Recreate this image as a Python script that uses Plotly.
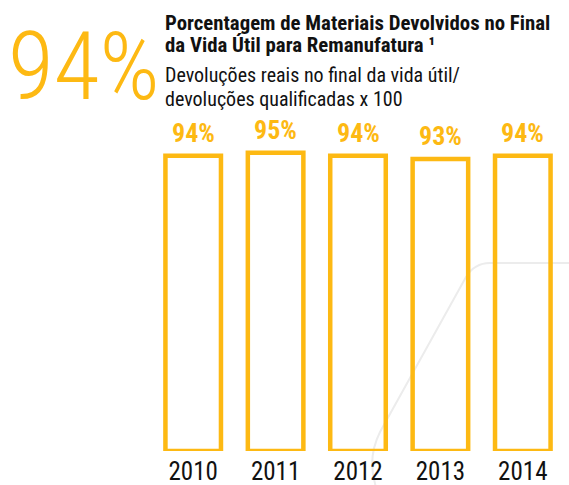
import plotly.graph_objects as go

# Data
years = ["2010", "2011", "2012", "2013", "2014"]
rates = [94, 95, 94, 93, 94]
value_labels = ["94%", "95%", "94%", "93%", "94%"]
headline = "94%"
title_lines = ["Porcentagem de Materiais Devolvidos no Final",
               "da Vida Útil para Remanufatura ¹"]
subtitle_lines = ["Devoluções reais no final da vida útil/",
                  "devoluções qualificadas x 100"]

W, H = 569, 485
L, R, T, B = 152, 5, 137, 34
PW, PH = W - L - R, H - T - B

YELLOW = "#FDB913"
NARROW = "Liberation Sans Narrow, Roboto Condensed, DejaVu Sans Condensed, Arial Narrow, sans-serif"


def px(x):
    return (x - L) / PW


def py(y):
    return (H - B - y) / PH


fig = go.Figure()
fig.add_trace(go.Bar(
    x=years, y=rates,
    marker=dict(color="rgba(255,255,255,0)", line=dict(color=YELLOW, width=4.5)),
    hoverinfo="skip",
))

annotations = []
# value labels above each bar (category axis: position by category index)
for i, (v, lab) in enumerate(zip(rates, value_labels)):
    annotations.append(dict(
        x=i, y=v, xref="x", yref="y", text=lab, showarrow=False,
        yanchor="bottom", yshift=6,
        font=dict(family=NARROW, size=26, color=YELLOW, weight="bold"),
    ))

# headline figure
annotations.append(dict(
    x=px(84), y=py(67), xref="paper", yref="paper", text=headline,
    showarrow=False, xanchor="center", yanchor="middle",
    font=dict(family=NARROW, size=94, color=YELLOW, weight=300),
))

for i, line in enumerate(title_lines):
    annotations.append(dict(
        x=px(163), y=py(23.5 + 22 * i), xref="paper", yref="paper", text=line,
        showarrow=False, xanchor="left", yanchor="middle",
        font=dict(family=NARROW, size=20.8, color="#111111", weight="bold"),
    ))
for i, line in enumerate(subtitle_lines):
    annotations.append(dict(
        x=px(163), y=py(74.5 + 24 * i), xref="paper", yref="paper", text=line,
        showarrow=False, xanchor="left", yanchor="middle",
        font=dict(family=NARROW, size=20, color="#111111"),
    ))

# faint background outline
pts = [(377, 490), (366, 460), (380, 432), (466, 277), (475, 262), (492, 263), (580, 263)]
c = [(px(a), py(b)) for a, b in pts]
path = (f"M {c[0][0]},{c[0][1]} Q {c[1][0]},{c[1][1]} {c[2][0]},{c[2][1]} "
        f"L {c[3][0]},{c[3][1]} Q {c[4][0]},{c[4][1]} {c[5][0]},{c[5][1]} "
        f"L {c[6][0]},{c[6][1]}")

fig.update_layout(
    width=W, height=H,
    margin=dict(l=L, r=R, t=T, b=B),
    paper_bgcolor="white", plot_bgcolor="rgba(0,0,0,0)",
    bargap=0.326, showlegend=False,
    annotations=annotations,
    shapes=[dict(type="path", path=path, xref="paper", yref="paper",
                 line=dict(color="#ececec", width=2), layer="below")],
    xaxis=dict(type="category", range=[-0.5, 4.5], showgrid=False, zeroline=False,
               showline=False, ticks="", ticklabelstandoff=3, automargin=False,
               tickfont=dict(family=NARROW, size=25, color="#111111")),
    yaxis=dict(range=[0, 100], visible=False, automargin=False),
)

fig.write_html("out.html")
